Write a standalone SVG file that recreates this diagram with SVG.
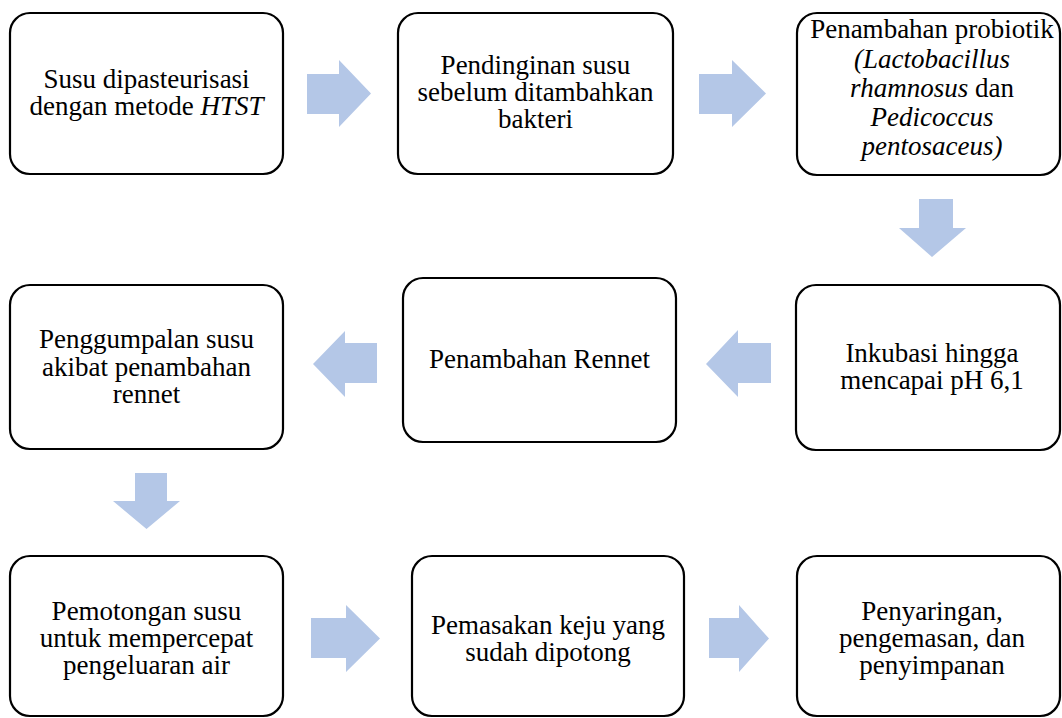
<svg xmlns="http://www.w3.org/2000/svg" width="1062" height="718" viewBox="0 0 1062 718">
<style>
.box{fill:#fff;stroke:#000;stroke-width:2.2}
.arr{fill:#b4c7e7}
text{font-family:"Liberation Serif","Times New Roman",serif;font-size:27px;fill:#000;text-anchor:middle}
.i{font-style:italic}
</style>
<rect width="1062" height="718" fill="#fff"/>
<g id="connectors">
<polygon class="arr" points="307,74 339,74 339,60 371,93.5 339,127 339,114 307,114"/>
<polygon class="arr" points="699,74 732,74 732,60 766,93.5 732,127 732,114 699,114"/>
<polygon class="arr" points="919,199 953,199 953,228 966,228 932,257 899,228 919,228"/>
<polygon class="arr" points="377,343 345,343 345,331 313,364 345,397 345,383 377,383"/>
<polygon class="arr" points="771,343 738,343 738,330 706,364 738,397 738,383 771,383"/>
<polygon class="arr" points="135,473 167,473 167,501 180,501 146.5,529 113,501 135,501"/>
<polygon class="arr" points="311,618 346,618 346,605 380,638.5 346,672 346,658 311,658"/>
<polygon class="arr" points="709,618 739,618 739,605 769,638.5 739,672 739,658 709,658"/>
</g>
<g id="n1"><rect class="box" x="10" y="13" width="273" height="161" rx="20"/>
<text x="146.5" y="88">Susu dipasteurisasi</text>
<text x="146.5" y="115">dengan metode <tspan class="i">HTST</tspan></text></g>
<g id="n2"><rect class="box" x="398" y="13" width="275" height="161" rx="20"/>
<text x="535.5" y="74">Pendinginan susu</text>
<text x="535.5" y="101">sebelum ditambahkan</text>
<text x="535.5" y="128">bakteri</text></g>
<g id="n3"><rect class="box" x="797" y="13" width="263" height="162" rx="20"/>
<text x="932" y="38">Penambahan probiotik</text>
<text x="932" y="68" class="i">(Lactobacillus</text>
<text x="932" y="97"><tspan class="i">rhamnosus</tspan> dan</text>
<text x="932" y="126" class="i">Pedicoccus</text>
<text x="932" y="155" class="i">pentosaceus)</text></g>
<g id="n4"><rect class="box" x="10" y="285" width="273" height="164" rx="20"/>
<text x="146.5" y="348">Penggumpalan susu</text>
<text x="146.5" y="376">akibat penambahan</text>
<text x="146.5" y="403">rennet</text></g>
<g id="n5"><rect class="box" x="403" y="278" width="273" height="164" rx="20"/>
<text x="539.5" y="368">Penambahan Rennet</text></g>
<g id="n6"><rect class="box" x="796" y="285" width="264" height="165" rx="20"/>
<text x="932" y="362">Inkubasi hingga</text>
<text x="932" y="389">mencapai pH 6,1</text></g>
<g id="n7"><rect class="box" x="10" y="556" width="273" height="160" rx="20"/>
<text x="146.5" y="620">Pemotongan susu</text>
<text x="146.5" y="647">untuk mempercepat</text>
<text x="146.5" y="674">pengeluaran air</text></g>
<g id="n8"><rect class="box" x="412" y="556" width="272" height="160" rx="20"/>
<text x="548" y="634">Pemasakan keju yang</text>
<text x="548" y="661">sudah dipotong</text></g>
<g id="n9"><rect class="box" x="797" y="556" width="263" height="160" rx="20"/>
<text x="932" y="620">Penyaringan,</text>
<text x="932" y="647">pengemasan, dan</text>
<text x="932" y="674">penyimpanan</text></g>
</svg>
